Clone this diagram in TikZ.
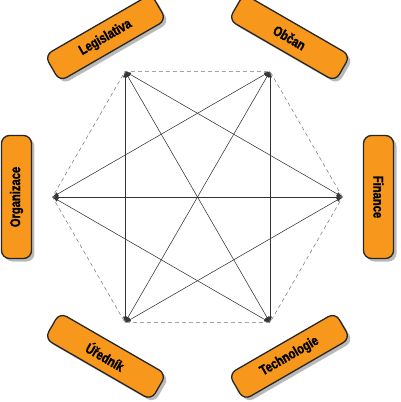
\documentclass[tikz,border=0pt]{standalone}
\usepackage{fontspec}
\usetikzlibrary{arrows.meta,shadows}
\newfontfamily\boxfont{Liberation Sans}[FakeStretch=0.8, FakeBold=1.5]
\definecolor{boxorange}{RGB}{247,152,29}

\tikzset{
  labelbox/.style={draw=black!85, line width=1.3pt, fill=boxorange, rounded corners=8pt,
    minimum width=123pt, minimum height=30pt, inner sep=0pt,
    font=\boxfont\bfseries\fontsize{14}{16}\selectfont,
    drop shadow={opacity=0.55, shadow xshift=3pt, shadow yshift=-3pt}},
  link/.style={{Latex[length=6pt,width=4pt]}-{Latex[length=6pt,width=4pt]}, draw=black!80, line width=0.55pt},
  rim/.style={dash pattern=on 4pt off 3pt, draw=black!55, line width=0.5pt}
}

\begin{document}
\begin{tikzpicture}[x=1pt, y=1pt]
    \useasboundingbox (-197.5,-205) rectangle (202.5,197);

    % corners of the hexagon
    \foreach \i in {1,...,6}
        \coordinate (v\i) at ({(\i-1)*60}:145);

    % dashed outline
    \draw[rim] (v1) -- (v2) -- (v3) -- (v4) -- (v5) -- (v6) -- cycle;

    % short diagonals
    \draw[link] (v1) -- (v3);
    \draw[link] (v2) -- (v4);
    \draw[link] (v3) -- (v5);
    \draw[link] (v4) -- (v6);
    \draw[link] (v5) -- (v1);
    \draw[link] (v6) -- (v2);

    % long diagonals
    \draw[link] (v1) -- (v4);
    \draw[link] (v2) -- (v5);
    \draw[link] (v3) -- (v6);

    % labels around the hexagon
    \node[labelbox, rotate=-90] (finance) at (0:181) {Finance};
    \node[labelbox, rotate=-30] (obcan) at (60:184) {Občan};
    \node[labelbox, rotate=30] (legislativa) at (120:184) {Legislativa};
    \node[labelbox, rotate=90] (organizace) at (180:181) {Organizace};
    \node[labelbox, rotate=-30] (urednik) at (240:184) {Úředník};
    \node[labelbox, rotate=30] (technologie) at (300:184) {Technologie};
\end{tikzpicture}
\end{document}
